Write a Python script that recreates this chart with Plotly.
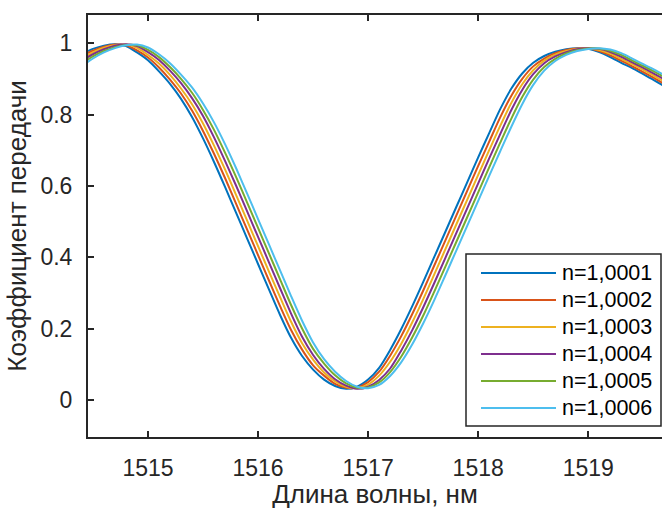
import plotly.graph_objects as go

# ---------------- data ----------------
wavelength_nm = [
    1514.4, 1514.5, 1514.6, 1514.7, 1514.8, 1514.9, 1515.0, 1515.1, 1515.2, 1515.3,
    1515.4, 1515.5, 1515.6, 1515.7, 1515.8, 1515.9, 1516.0, 1516.1, 1516.2, 1516.3,
    1516.4, 1516.5, 1516.6, 1516.7, 1516.8, 1516.9, 1517.0, 1517.1, 1517.2, 1517.3,
    1517.4, 1517.5, 1517.6, 1517.7, 1517.8, 1517.9, 1518.0, 1518.1, 1518.2, 1518.3,
    1518.4, 1518.5, 1518.6, 1518.7, 1518.8, 1518.9, 1519.0, 1519.1, 1519.2, 1519.3,
    1519.4, 1519.5, 1519.6, 1519.7, 1519.8,
]

t_n10001 = [
    0.970, 0.984, 0.993, 0.997, 0.992, 0.974, 0.952, 0.921, 0.886, 0.844,
    0.793, 0.733, 0.667, 0.597, 0.525, 0.453, 0.381, 0.309, 0.238, 0.174,
    0.123, 0.085, 0.057, 0.039, 0.031, 0.037, 0.057, 0.090, 0.140, 0.198,
    0.262, 0.330, 0.400, 0.470, 0.540, 0.610, 0.680, 0.748, 0.815, 0.872,
    0.915, 0.945, 0.964, 0.976, 0.983, 0.986, 0.984, 0.975, 0.961, 0.945,
    0.930, 0.913, 0.896, 0.878, 0.860,
]
t_n10002 = [
    0.964, 0.979, 0.990, 0.996, 0.994, 0.980, 0.960, 0.932, 0.898, 0.859,
    0.811, 0.754, 0.690, 0.622, 0.550, 0.478, 0.406, 0.334, 0.263, 0.196,
    0.141, 0.097, 0.068, 0.045, 0.034, 0.035, 0.050, 0.079, 0.124, 0.178,
    0.240, 0.306, 0.376, 0.446, 0.516, 0.586, 0.656, 0.724, 0.792, 0.852,
    0.900, 0.935, 0.957, 0.972, 0.981, 0.985, 0.985, 0.978, 0.966, 0.951,
    0.935, 0.919, 0.902, 0.884, 0.866,
]
t_n10003 = [
    0.957, 0.974, 0.987, 0.994, 0.996, 0.987, 0.967, 0.943, 0.911, 0.873,
    0.829, 0.775, 0.713, 0.646, 0.575, 0.503, 0.431, 0.359, 0.288, 0.219,
    0.159, 0.113, 0.077, 0.052, 0.037, 0.033, 0.043, 0.068, 0.107, 0.157,
    0.217, 0.282, 0.351, 0.421, 0.491, 0.561, 0.631, 0.700, 0.768, 0.832,
    0.885, 0.924, 0.951, 0.968, 0.978, 0.984, 0.985, 0.981, 0.971, 0.956,
    0.941, 0.925, 0.908, 0.891, 0.873,
]
t_n10004 = [
    0.951, 0.969, 0.983, 0.993, 0.997, 0.992, 0.975, 0.953, 0.923, 0.888,
    0.846, 0.796, 0.736, 0.670, 0.601, 0.529, 0.457, 0.385, 0.313, 0.242,
    0.177, 0.126, 0.087, 0.058, 0.040, 0.031, 0.037, 0.056, 0.088, 0.138,
    0.195, 0.259, 0.327, 0.397, 0.467, 0.537, 0.607, 0.677, 0.745, 0.812,
    0.869, 0.913, 0.944, 0.963, 0.975, 0.983, 0.986, 0.984, 0.975, 0.962,
    0.946, 0.931, 0.914, 0.897, 0.879,
]
t_n10005 = [
    0.943, 0.963, 0.978, 0.989, 0.995, 0.994, 0.981, 0.961, 0.933, 0.900,
    0.861, 0.813, 0.757, 0.693, 0.625, 0.554, 0.482, 0.410, 0.338, 0.266,
    0.200, 0.143, 0.102, 0.069, 0.046, 0.034, 0.035, 0.049, 0.078, 0.121,
    0.175, 0.236, 0.303, 0.372, 0.442, 0.512, 0.582, 0.652, 0.721, 0.788,
    0.849, 0.898, 0.933, 0.956, 0.971, 0.980, 0.985, 0.985, 0.979, 0.967,
    0.951, 0.936, 0.920, 0.903, 0.885,
]
t_n10006 = [
    0.936, 0.957, 0.974, 0.986, 0.994, 0.996, 0.988, 0.969, 0.944, 0.912,
    0.876, 0.831, 0.778, 0.717, 0.650, 0.579, 0.507, 0.435, 0.363, 0.291,
    0.222, 0.161, 0.114, 0.079, 0.053, 0.037, 0.033, 0.042, 0.067, 0.105,
    0.155, 0.214, 0.279, 0.348, 0.418, 0.488, 0.558, 0.628, 0.697, 0.765,
    0.829, 0.883, 0.923, 0.950, 0.967, 0.978, 0.984, 0.986, 0.982, 0.972,
    0.957, 0.941, 0.926, 0.909, 0.891,
]

series_names = ["n=1,0001", "n=1,0002", "n=1,0003", "n=1,0004", "n=1,0005", "n=1,0006"]
series_values = [t_n10001, t_n10002, t_n10003, t_n10004, t_n10005, t_n10006]
series_colors = ["#0072BD", "#D95319", "#EDB120", "#7E2F8E", "#77AC30", "#4DBEEE"]

x_ticks = [1515, 1516, 1517, 1518, 1519]
y_ticks = [0, 0.2, 0.4, 0.6, 0.8, 1]
y_tick_labels = ["0", "0.2", "0.4", "0.6", "0.8", "1"]

x_title = "Длина волны, нм"
y_title = "Коэффициент передачи"

# ---------------- layout geometry ----------------
W, H = 662, 509
ML, MR, MT, MB = 88, 0, 15, 72
PW, PH = W - ML - MR, H - MT - MB
FONT = "Liberation Sans, Arial, Helvetica, sans-serif"
INK = "#262626"


def px(xp):
    return (xp - ML) / PW


def py(yp):
    return (MT + PH - yp) / PH


fig = go.Figure()
for name, vals, col in zip(series_names, series_values, series_colors):
    fig.add_trace(go.Scatter(
        x=wavelength_nm, y=vals, name=name, mode="lines",
        line=dict(color=col, width=2, shape="spline", smoothing=0.8),
        showlegend=False,
    ))

# custom legend (MATLAB style: long line samples)
shapes = [dict(type="rect", xref="paper", yref="paper",
               x0=px(466), x1=px(661), y0=py(426), y1=py(254),
               line=dict(color=INK, width=1.5), fillcolor="white", layer="above")]
annotations = []
for i, (name, col) in enumerate(zip(series_names, series_colors)):
    yc = 273 + 27 * i
    shapes.append(dict(type="line", xref="paper", yref="paper",
                       x0=px(481), x1=px(556), y0=py(yc), y1=py(yc),
                       line=dict(color=col, width=2), layer="above"))
    annotations.append(dict(xref="paper", yref="paper", x=px(560), y=py(yc),
                            text=name, showarrow=False, xanchor="left", yanchor="middle",
                            font=dict(family=FONT, size=21.5, color="black")))

fig.update_layout(
    width=W, height=H,
    margin=dict(l=ML, r=MR, t=MT, b=MB, pad=0),
    paper_bgcolor="white", plot_bgcolor="white",
    font=dict(family=FONT, color=INK),
    shapes=shapes, annotations=annotations,
    showlegend=False,
)
fig.update_xaxes(
    range=[1514.455, 1519.67], tickvals=x_ticks, ticktext=[str(v) for v in x_ticks],
    showgrid=False, zeroline=False,
    showline=True, linecolor=INK, linewidth=2, mirror="ticks",
    ticks="inside", ticklen=6, tickwidth=2, tickcolor=INK,
    tickfont=dict(family=FONT, size=23, color=INK), ticklabelstandoff=9,
    title=dict(text=x_title, font=dict(family=FONT, size=26, color=INK), standoff=9),
)
fig.update_yaxes(
    range=[-0.104, 1.079], tickvals=y_ticks, ticktext=y_tick_labels,
    showgrid=False, zeroline=False,
    showline=True, linecolor=INK, linewidth=2, mirror=False,
    ticks="inside", ticklen=6, tickwidth=2, tickcolor=INK,
    tickfont=dict(family=FONT, size=23, color=INK), ticklabelstandoff=9,
    title=dict(text=y_title, font=dict(family=FONT, size=26, color=INK), standoff=6),
)

fig.write_html("out.html")
